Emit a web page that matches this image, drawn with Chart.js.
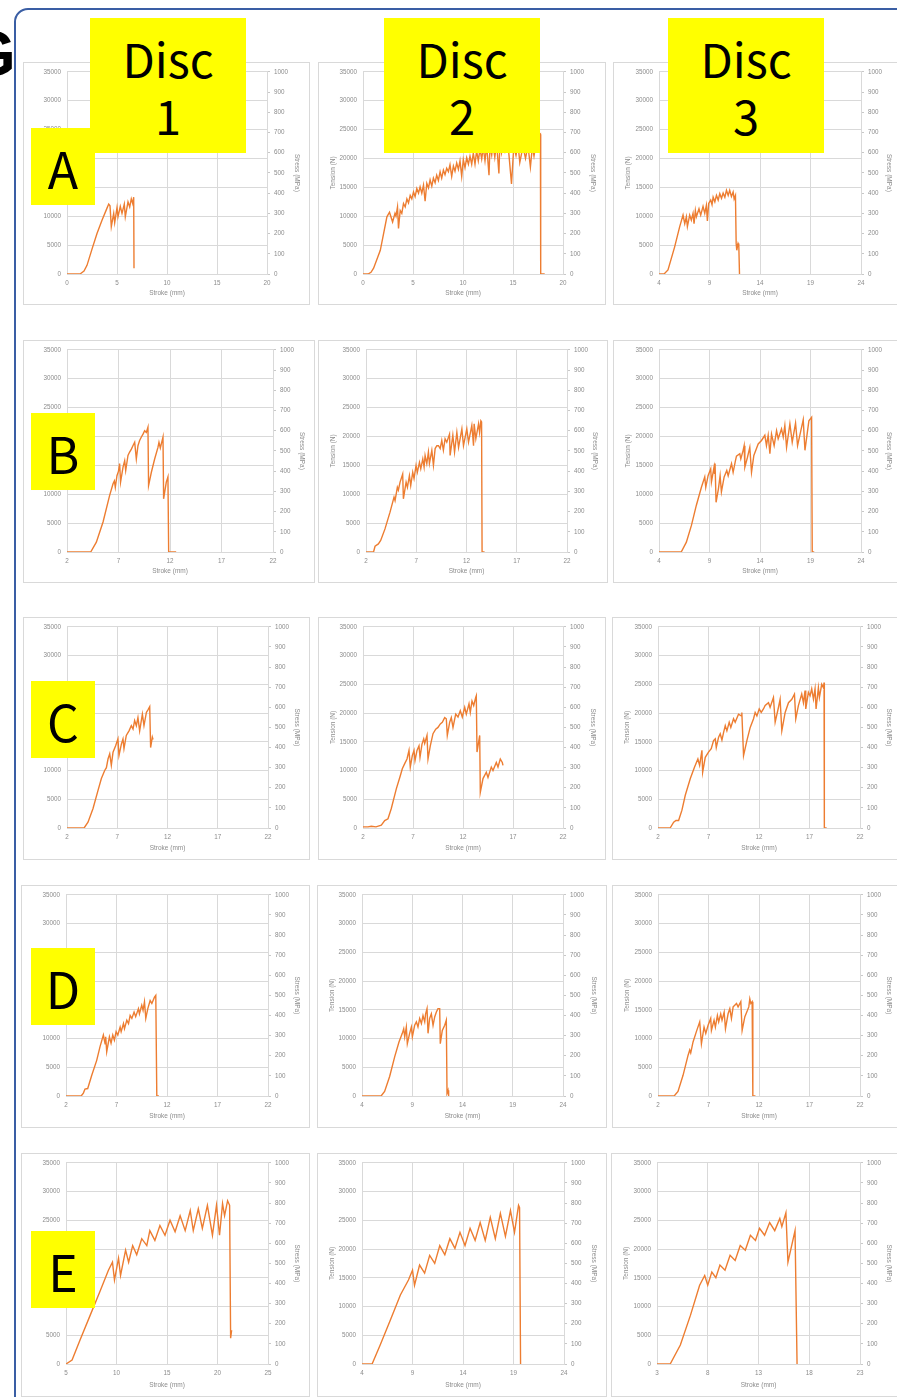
<!DOCTYPE html>
<html>
<head>
<meta charset="utf-8">
<script src="https://cdn.jsdelivr.net/npm/chart.js@4"></script>
<style>
  html, body { margin: 0; padding: 0; background: #fff; }
  body { width: 897px; height: 1397px; position: relative; overflow: hidden; }
  .frame { position: absolute; left: 14px; top: 8px; width: 920px; height: 1430px;
           border: 2px solid #3a5ea4; border-radius: 14px; box-sizing: border-box; }
  .fig { position: absolute; left: -34px; top: 17px; font: bold 64px "Liberation Sans", sans-serif; color: #000; }
  canvas { position: absolute; }
  .tag { position: absolute; background: #ffff00; color: #000; display: flex; flex-direction: column;
         align-items: center; justify-content: center; font-family: "Noto Sans CJK JP", "Noto Sans", sans-serif; }
  .disc { width: 156px; height: 135px; top: 18px; font-size: 47px; line-height: 57px; }
  .row { left: 31px; width: 64px; height: 77px; font-size: 50px; line-height: 60px; }
</style>
</head>
<body>
<div class="frame"></div>
<div class="fig">G</div>

<script>
// Tension (N) against stroke (mm), one curve per disc and condition.
const curveA1 = [[0,0],[1.3,0],[1.7,500],[2.0,1500],[2.5,4300],[3.0,7000],[3.5,9300],[4.0,11400],[4.17,12100],[4.3,11800],[4.43,8200],[4.67,10500],[4.77,8900],[5.0,11500],[5.1,9900],[5.33,11700],[5.5,10500],[5.73,12100],[5.83,9900],[6.1,12500],[6.27,11600],[6.43,13000],[6.57,12200],[6.67,13300],[6.7,1000]];

const curveA2 = [[0,0],[0.5,0],[0.8,300],[1.06,1000],[1.73,4100],[2.39,9900],[2.65,10700],[2.96,9000],[3.2,10500],[3.3,10000],[3.45,11600],[3.55,7900],[3.72,11000],[3.88,10500],[4.05,12200],[4.22,11600],[4.39,13000],[4.55,12300],[4.72,13600],[4.88,13000],[5.05,14200],[5.21,13400],[5.38,14800],[5.55,14000],[5.71,15100],[5.88,14000],[6.05,15400],[6.21,12600],[6.38,15700],[6.55,14900],[6.71,16300],[6.88,15200],[7.04,16600],[7.21,15800],[7.37,17100],[7.54,16200],[7.71,17700],[7.87,16600],[8.04,18000],[8.2,17200],[8.37,18300],[8.54,17700],[8.7,18900],[8.87,16900],[9.04,18700],[9.2,17800],[9.37,19200],[9.54,18100],[9.7,19600],[9.87,16900],[10.03,19800],[10.2,18400],[10.37,20100],[10.54,19000],[10.7,20400],[10.87,19000],[11.03,20900],[11.2,19000],[11.36,21300],[11.53,19600],[11.7,21600],[11.87,19900],[12.03,21900],[12.2,19600],[12.37,22200],[12.6,17100],[12.7,22200],[12.87,20600],[13.0,22500],[13.18,20200],[13.36,22700],[13.59,17400],[13.69,22700],[13.85,21000],[14.0,23000],[14.2,21300],[14.4,22800],[14.55,21500],[14.85,15600],[15.08,22100],[15.3,20500],[15.5,22500],[15.68,19300],[16.0,22100],[16.25,20000],[16.5,22200],[16.74,18500],[16.94,22100],[17.1,20400],[17.34,23000],[17.55,23900],[17.74,24200],[17.77,0],[18.17,0]];

const curveA3 = [[4,0],[4.5,0],[4.89,700],[5.55,4700],[6.05,8200],[6.38,10200],[6.55,8700],[6.71,9900],[6.81,8200],[7.04,10200],[7.2,9300],[7.37,10500],[7.47,8700],[7.6,11000],[7.7,9900],[7.96,11300],[8.13,10200],[8.36,11700],[8.53,10500],[8.69,11900],[8.79,9200],[8.92,12200],[9.12,12800],[9.25,12000],[9.36,13300],[9.53,12500],[9.69,13600],[9.86,12800],[10.02,13900],[10.19,13100],[10.35,14000],[10.52,13300],[10.68,14500],[10.85,13600],[11.0,14500],[11.17,13400],[11.34,14200],[11.44,13000],[11.57,13600],[11.64,5300],[11.7,4100],[11.83,5300],[11.9,5000],[11.97,0]];

const curveB1 = [[2,0],[4.3,0],[4.85,1700],[5.5,5200],[6.14,9800],[6.47,11800],[6.6,12300],[6.69,11200],[6.85,13200],[7.0,14000],[7.11,15300],[7.2,12100],[7.44,14700],[7.6,15800],[7.7,14100],[7.92,16700],[8.08,17300],[8.25,17800],[8.4,18400],[8.57,19000],[8.73,16100],[8.89,18400],[9.05,19300],[9.22,19900],[9.38,20400],[9.54,21000],[9.7,20700],[9.86,21600],[9.92,11500],[10.19,13800],[10.51,16100],[10.83,18100],[10.93,19000],[11.06,18000],[11.32,19900],[11.38,9200],[11.64,12100],[11.8,13000],[11.87,0],[12.6,0]];

const curveB2 = [[2,0],[2.75,0],[2.9,1000],[3.23,1400],[3.46,2000],[3.89,4000],[4.39,6900],[4.79,9500],[4.89,8900],[5.12,11200],[5.22,10700],[5.39,12100],[5.65,13500],[5.72,9200],[5.99,12100],[6.12,11200],[6.32,13200],[6.45,11500],[6.65,13800],[6.78,12700],[6.98,15000],[7.11,13800],[7.32,15500],[7.45,14400],[7.65,16100],[7.78,14700],[7.88,16700],[8.05,15300],[8.21,17300],[8.31,15300],[8.55,17600],[8.71,15000],[8.88,17900],[9.05,18400],[9.21,18400],[9.38,17900],[9.54,19300],[9.7,17600],[9.87,19600],[10.04,19000],[10.31,20400],[10.37,16700],[10.64,20200],[10.81,17300],[11.04,20700],[11.21,18100],[11.54,21300],[11.7,18400],[12.03,21300],[12.2,19000],[12.53,21900],[12.7,18400],[12.76,22200],[12.93,19600],[13.2,22200],[13.3,20700],[13.43,22700],[13.5,22500],[13.55,0],[13.8,0]];

const curveB3 = [[4,0],[6.2,0],[6.71,1700],[7.21,4600],[7.7,8100],[8.2,11200],[8.53,13000],[8.63,11200],[8.86,13200],[9.12,14400],[9.19,12100],[9.45,14700],[9.5,13500],[9.55,15300],[9.65,8600],[9.88,10900],[10.05,13200],[10.18,10400],[10.45,13000],[10.71,14100],[10.85,13200],[11.18,15300],[11.34,13800],[11.57,15800],[11.67,16600],[12.0,17000],[12.1,16100],[12.33,17600],[12.43,18400],[12.5,14700],[12.76,16400],[12.99,18100],[13.16,13800],[13.39,16700],[13.65,17900],[13.82,18700],[14.15,19300],[14.48,20200],[14.64,18400],[14.81,20200],[14.98,17000],[15.14,20400],[15.4,18400],[15.64,21000],[15.8,19600],[16.13,21300],[16.3,19900],[16.46,21900],[16.63,18100],[16.96,22200],[17.19,19000],[17.52,22300],[17.72,18400],[18.28,22900],[18.45,17600],[18.84,22700],[19.11,23300],[19.17,0],[19.37,0]];

const curveC1 = [[2,0],[3.7,0],[4.09,1000],[4.59,3400],[5.08,6500],[5.42,8600],[5.75,10000],[5.92,10500],[6.08,12000],[6.25,12900],[6.41,10900],[6.58,13200],[6.84,14300],[7.07,15500],[7.17,12600],[7.41,14600],[7.57,15500],[7.67,13800],[7.9,16100],[8.17,16900],[8.4,17800],[8.57,17200],[8.73,18700],[8.9,17800],[9.06,19200],[9.23,16900],[9.5,19800],[9.66,17800],[9.9,20100],[10.07,20600],[10.23,21100],[10.32,14000],[10.49,15800],[10.56,15400]];

const curveC2 = [[2,200],[2.5,200],[2.83,300],[3.3,200],[3.83,500],[4.17,1300],[4.5,1600],[4.83,3400],[5.33,6800],[5.73,9100],[5.93,10300],[6.17,11200],[6.4,12000],[6.6,13500],[6.73,10600],[6.93,12600],[7.1,13500],[7.2,11700],[7.4,13500],[7.6,14300],[7.7,12300],[7.9,14600],[8.07,15500],[8.17,14700],[8.4,16100],[8.5,12000],[8.73,14300],[9.0,16400],[9.27,17200],[9.5,17500],[9.73,18100],[9.93,18400],[10.17,19200],[10.33,19000],[10.43,16100],[10.67,18400],[10.83,19200],[11.0,17500],[11.27,19800],[11.5,19300],[11.73,20400],[11.93,19300],[12.17,21000],[12.33,19800],[12.6,21600],[12.73,20100],[12.9,22100],[13.07,21300],[13.27,22700],[13.33,23000],[13.4,13200],[13.67,16100],[13.73,6200],[14.0,8600],[14.33,9700],[14.5,8800],[14.83,10600],[15.0,10000],[15.33,11400],[15.5,10600],[15.73,12000],[15.93,11400],[16.0,10900]];

const curveC3 = [[2,0],[3.2,0],[3.55,1000],[3.78,1300],[4.04,1300],[4.37,3100],[4.7,5700],[5.2,8600],[5.62,10600],[5.95,12000],[6.12,10900],[6.35,13500],[6.42,9700],[6.68,12300],[7.0,13200],[7.27,13800],[7.5,15200],[7.67,15500],[7.77,14000],[8.0,15800],[8.16,16400],[8.33,15300],[8.49,16600],[8.66,17800],[8.82,16900],[9.05,18400],[9.21,17500],[9.48,19000],[9.64,18400],[9.97,19800],[10.24,19500],[10.3,20100],[10.47,12600],[10.8,15200],[11.13,17500],[11.46,19000],[11.62,20100],[11.79,19500],[12.02,20700],[12.22,20100],[12.44,20700],[12.61,21300],[12.94,21800],[13.1,21000],[13.43,22700],[13.6,18400],[13.93,21000],[14.09,22400],[14.26,16900],[14.59,20100],[14.92,21800],[15.25,22400],[15.51,23300],[15.64,19000],[15.9,21300],[16.23,23300],[16.4,21800],[16.56,23900],[16.63,20700],[16.89,23600],[17.06,23000],[17.22,24200],[17.39,22400],[17.55,24200],[17.65,20700],[17.88,24400],[17.98,22700],[18.21,25000],[18.38,24400],[18.44,25300],[18.47,0],[18.7,0]];

const curveD1 = [[2,0],[3.5,0],[3.72,500],[3.88,1200],[4.15,1300],[4.55,3600],[5.04,6200],[5.37,8600],[5.7,10600],[5.87,9100],[5.93,10300],[6.03,7700],[6.3,10300],[6.46,9200],[6.63,10600],[6.79,9700],[6.96,11200],[7.13,10600],[7.36,12000],[7.46,11200],[7.69,12600],[7.79,11700],[8.02,13200],[8.19,12600],[8.35,14000],[8.52,13500],[8.74,14600],[8.9,13800],[9.17,15200],[9.27,14300],[9.5,15800],[9.63,14900],[9.77,16400],[9.9,13500],[10.1,15200],[10.33,16600],[10.5,16100],[10.76,17200],[10.89,17500],[10.99,0],[11.2,0]];

const curveD2 = [[4,0],[5.9,0],[6.25,800],[6.75,3400],[7.25,6800],[7.68,9400],[8.01,10900],[8.15,11700],[8.25,10300],[8.41,12000],[8.51,9100],[8.74,10900],[8.91,12000],[9.01,10300],[9.24,12300],[9.41,12900],[9.57,12000],[9.74,13500],[9.91,12600],[10.07,14000],[10.24,12900],[10.33,14300],[10.47,15200],[10.57,10900],[10.73,13500],[10.9,14300],[11.07,12300],[11.24,13800],[11.4,14600],[11.56,15200],[11.73,15200],[11.79,9100],[11.99,11400],[12.23,12300],[12.39,13200],[12.46,500],[12.56,1000],[12.62,0]];

const curveD3 = [[2,0],[3.6,0],[3.98,800],[4.48,3600],[4.98,7100],[5.14,8000],[5.24,7500],[5.47,9400],[5.8,11200],[6.13,12900],[6.3,9100],[6.56,12000],[6.73,10900],[6.96,12300],[7.22,13500],[7.29,11400],[7.55,13200],[7.68,12000],[7.88,14000],[8.01,12900],[8.21,14300],[8.34,13200],[8.55,14600],[8.68,11700],[8.94,14300],[9.11,15200],[9.27,13500],[9.44,15500],[9.6,15800],[9.77,16100],[9.93,15500],[10.2,16400],[10.33,11400],[10.6,13800],[10.86,14900],[10.99,15500],[11.09,16900],[11.19,16100],[11.32,16400],[11.39,0],[11.65,0]];

const curveE1 = [[5,0],[5.6,700],[6.4,4200],[7.4,8500],[8.4,12800],[9.2,16300],[9.6,17700],[9.8,14600],[10.2,18400],[10.4,15400],[10.9,19800],[11.2,17700],[11.6,20600],[12.0,19000],[12.5,21800],[13.0,20600],[13.3,23200],[13.8,21500],[14.3,24100],[14.8,22400],[15.3,25000],[15.8,23000],[16.3,25800],[16.8,23200],[17.3,26700],[17.6,23200],[18.1,27000],[18.5,23600],[19.0,27600],[19.5,22400],[19.9,27600],[20.2,22400],[20.5,27900],[20.7,25800],[21.0,28400],[21.2,27600],[21.3,4500],[21.4,5900]];

const curveE2 = [[4,0],[5.0,0],[5.8,3300],[6.8,7600],[7.8,12000],[8.6,14600],[9.0,16300],[9.2,13700],[9.7,17200],[10.2,15800],[10.7,18900],[11.2,17500],[11.7,20600],[12.2,19000],[12.7,21800],[13.2,20100],[13.7,22900],[14.2,20600],[14.7,23600],[15.2,21500],[15.7,24600],[16.2,21500],[16.7,25500],[17.2,21800],[17.7,26200],[18.2,22200],[18.7,26700],[19.1,22900],[19.5,27600],[19.6,27200],[19.7,0]];

const curveE3 = [[3,0],[4.3,0],[5.3,3300],[6.3,8500],[7.2,13700],[7.7,15400],[8.0,13700],[8.4,16000],[8.8,15000],[9.2,17200],[9.7,16300],[10.2,18900],[10.7,18000],[11.2,20600],[11.7,19800],[12.2,22400],[12.7,21500],[13.1,23600],[13.6,22400],[14.1,24600],[14.6,23200],[15.1,25300],[15.3,23900],[15.7,26300],[15.9,17700],[16.6,23200],[16.8,0]];

// Axis tick labels
const strokeTicks0 = [0, 5, 10, 15, 20];
const strokeTicks2 = [2, 7, 12, 17, 22];
const strokeTicks3 = [3, 8, 13, 18, 23];
const strokeTicks4 = [4, 9, 14, 19, 24];
const strokeTicks5 = [5, 10, 15, 20, 25];
const tensionTicks = [0, 5000, 10000, 15000, 20000, 25000, 30000, 35000];
const stressTicks = [0, 100, 200, 300, 400, 500, 600, 700, 800, 900, 1000];

const discLabels = ['Disc 1', 'Disc 2', 'Disc 3'];
const rowLabels = ['A', 'B', 'C', 'D', 'E'];

// Grid of panels: outer frame [left, top, right, bottom] and plot area [left, top, right, bottom]
const panels = [
  { curve: curveA1, ticks: strokeTicks0, frame: [23, 62, 310, 305],   plot: [67, 71, 267, 274] },
  { curve: curveA2, ticks: strokeTicks0, frame: [318, 62, 606, 305],  plot: [363, 71, 563, 274] },
  { curve: curveA3, ticks: strokeTicks4, frame: [613, 62, 902, 305],  plot: [659, 71, 861, 274] },
  { curve: curveB1, ticks: strokeTicks2, frame: [23, 340, 315, 583],  plot: [67, 349, 273, 552] },
  { curve: curveB2, ticks: strokeTicks2, frame: [318, 340, 608, 583], plot: [366, 349, 567, 552] },
  { curve: curveB3, ticks: strokeTicks4, frame: [613, 340, 902, 583], plot: [659, 349, 861, 552] },
  { curve: curveC1, ticks: strokeTicks2, frame: [23, 617, 310, 860],  plot: [67, 626, 268, 828] },
  { curve: curveC2, ticks: strokeTicks2, frame: [318, 617, 606, 860], plot: [363, 626, 563, 828] },
  { curve: curveC3, ticks: strokeTicks2, frame: [612, 617, 902, 860], plot: [658, 626, 860, 828] },
  { curve: curveD1, ticks: strokeTicks2, frame: [21, 885, 310, 1128], plot: [66, 894, 268, 1096] },
  { curve: curveD2, ticks: strokeTicks4, frame: [317, 885, 607, 1128],plot: [362, 894, 563, 1096] },
  { curve: curveD3, ticks: strokeTicks2, frame: [612, 885, 902, 1128],plot: [658, 894, 860, 1096] },
  { curve: curveE1, ticks: strokeTicks5, frame: [21, 1153, 310, 1397],plot: [66, 1162, 268, 1364] },
  { curve: curveE2, ticks: strokeTicks4, frame: [317, 1153, 607, 1397],plot: [362, 1162, 564, 1364] },
  { curve: curveE3, ticks: strokeTicks3, frame: [611, 1153, 902, 1397],plot: [657, 1162, 860, 1364] }
];

const GRID = '#d9d9d9';
const TEXT = '#8c8c8c';
const tickFont = { family: 'Liberation Sans', size: 6.3 };
const titleFont = { family: 'Liberation Sans', size: 6.5 };
const plain = v => String(v);

// White panel with a thin light-grey border
const panelFrame = {
  id: 'panelFrame',
  beforeDraw(chart) {
    const c = chart.ctx;
    c.save();
    c.fillStyle = '#fff';
    c.fillRect(0, 0, chart.width, chart.height);
    c.strokeStyle = GRID;
    c.lineWidth = 1;
    c.strokeRect(0.5, 0.5, chart.width - 1, chart.height - 1);
    c.restore();
  }
};

function setTicks(values) {
  return scale => { scale.ticks = values.map(v => ({ value: v })); };
}

panels.forEach(p => {
  const [fl, ft, fr, fb] = p.frame;
  const [pl, pt, pr, pb] = p.plot;
  const cv = document.createElement('canvas');
  cv.width = fr - fl; cv.height = fb - ft;
  cv.style.left = fl + 'px'; cv.style.top = ft + 'px';
  cv.style.width = (fr - fl) + 'px'; cv.style.height = (fb - ft) + 'px';
  document.body.appendChild(cv);

  const xs = p.ticks;
  new Chart(cv, {
    type: 'scatter',
    data: {
      datasets: [{
        data: p.curve.map(([x, y]) => ({ x, y })),
        showLine: true,
        borderColor: '#ED7D31',
        borderWidth: 1.4,
        pointRadius: 0,
        tension: 0
      }]
    },
    options: {
      responsive: false,
      animation: false,
      devicePixelRatio: 1,
      layout: { padding: { top: pt - ft, left: 0, right: 0, bottom: 0 } },
      plugins: { legend: { display: false }, tooltip: { enabled: false } },
      scales: {
        x: {
          type: 'linear', position: 'bottom',
          min: xs[0], max: xs[xs.length - 1],
          afterBuildTicks: setTicks(xs),
          afterFit: s => { s.height = fb - pb; },
          grid: { color: GRID, drawTicks: false },
          border: { color: GRID },
          ticks: { font: tickFont, color: TEXT, padding: 5, maxRotation: 0, callback: plain },
          title: { display: true, text: 'Stroke (mm)', font: titleFont, color: TEXT, padding: { top: 8, bottom: 8 } }
        },
        y: {
          type: 'linear', position: 'left',
          min: 0, max: 35000,
          afterBuildTicks: setTicks(tensionTicks),
          afterFit: s => { s.width = pl - fl; },
          grid: { color: GRID, drawTicks: false },
          border: { color: GRID },
          ticks: { font: tickFont, color: TEXT, padding: 6, callback: plain },
          title: { display: true, text: 'Tension (N)', font: titleFont, color: TEXT, padding: { top: 11, bottom: 11 } }
        },
        y2: {
          type: 'linear', position: 'right',
          min: 0, max: 1000,
          afterBuildTicks: setTicks(stressTicks),
          afterFit: s => { s.width = fr - pr; },
          grid: { drawOnChartArea: false, color: '#c8c8c8', tickLength: 3 },
          border: { color: GRID },
          ticks: { font: tickFont, color: TEXT, padding: 4, callback: plain },
          title: { display: true, text: 'Stress (MPa)', font: titleFont, color: TEXT, padding: { top: 9, bottom: 9 } }
        }
      }
    },
    plugins: [panelFrame]
  });
});

// Yellow column and row labels on top of the panels
const discLeft = [90, 384, 668];
discLabels.forEach((t, i) => {
  const d = document.createElement('div');
  d.className = 'tag disc';
  d.style.left = discLeft[i] + 'px';
  t.split(' ').forEach(w => {
    const s = document.createElement('div');
    s.textContent = w;
    d.appendChild(s);
  });
  document.body.appendChild(d);
});
const rowTop = [128, 413, 681, 948, 1231];
rowLabels.forEach((t, i) => {
  const d = document.createElement('div');
  d.className = 'tag row';
  d.style.top = rowTop[i] + 'px';
  d.textContent = t;
  document.body.appendChild(d);
});
</script>
</body>
</html>
